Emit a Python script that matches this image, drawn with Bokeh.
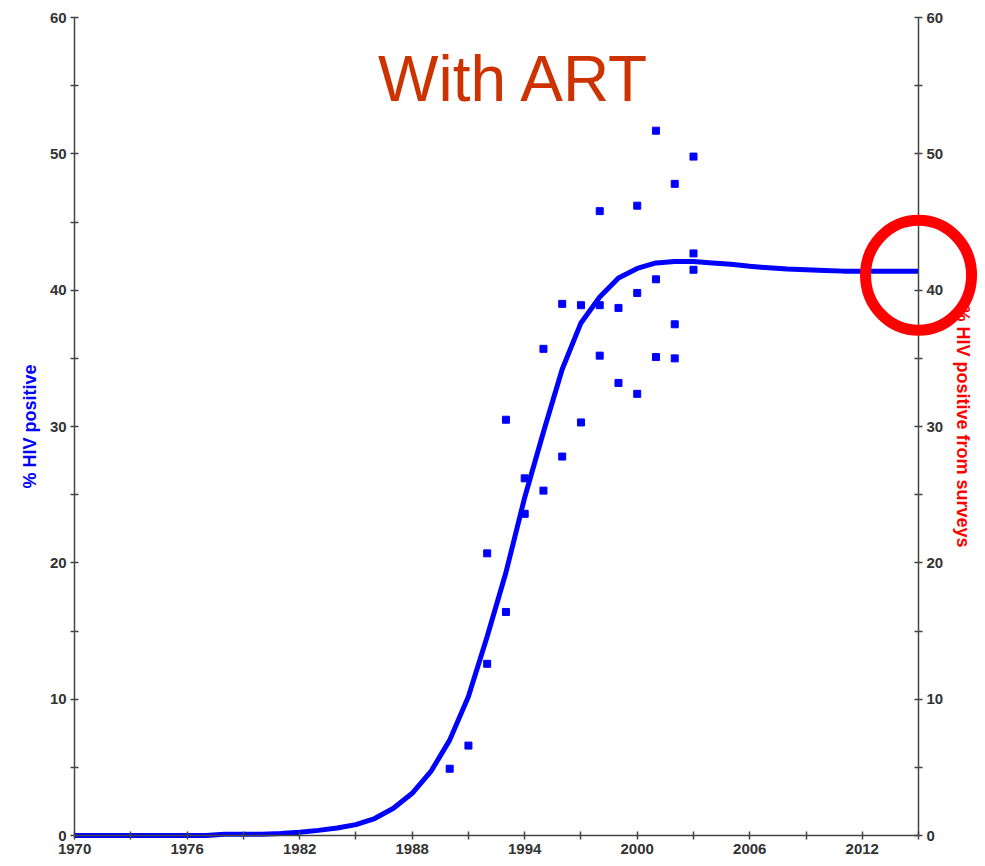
from bokeh.plotting import figure
from bokeh.models import (FixedTicker, LinearAxis, Range1d, Label,
                          ColumnDataSource, Ellipse)
from bokeh.embed import file_html
from bokeh.resources import INLINE

# Modelled adult HIV prevalence (%), one value per year
years = list(range(1970, 2016))
hiv_prevalence = [
    0.0, 0.0, 0.0, 0.0, 0.0, 0.0, 0.0, 0.0, 0.1, 0.1,        # 1970-1979
    0.1, 0.15, 0.25, 0.38, 0.55, 0.8, 1.25, 2.0, 3.1, 4.7,   # 1980-1989
    7.0, 10.2, 14.6, 19.3, 24.8, 29.6, 34.2, 37.6, 39.5, 40.9,  # 1990-1999
    41.6, 42.0, 42.1, 42.1, 42.0, 41.9, 41.75, 41.65, 41.55, 41.5,  # 2000-2009
    41.45, 41.4, 41.4, 41.4, 41.4, 41.4,                     # 2010-2015
]

# Antenatal-clinic survey observations (%)
survey_years = [
    1990, 1991, 1992, 1992, 1993, 1993, 1994, 1994, 1995, 1995,
    1996, 1996, 1997, 1997, 1998, 1998, 1998, 1999, 1999,
    2000, 2000, 2000, 2001, 2001, 2001, 2002, 2002, 2002,
    2003, 2003, 2003,
]
survey_values = [
    4.9, 6.6, 12.6, 20.7, 16.4, 30.5, 23.6, 26.2, 25.3, 35.7,
    27.8, 39.0, 30.3, 38.9, 35.2, 38.9, 45.8, 33.2, 38.7,
    32.4, 39.8, 46.2, 35.1, 40.8, 51.7, 35.0, 37.5, 47.8,
    41.5, 42.7, 49.8,
]

x_major = [1970, 1976, 1982, 1988, 1994, 2000, 2006, 2012]
x_minor = [1973, 1979, 1985, 1991, 1997, 2003, 2009, 2015]
y_major = [0, 10, 20, 30, 40, 50, 60]
y_minor = [5, 15, 25, 35, 45, 55]

title_text = "With ART"
left_label = "% HIV positive"
right_label = "% HIV positive from surveys"

AXIS_COLOR = "#444444"
LABEL_COLOR = "#333333"
BLUE = "#0000FF"

X0, X1 = years[0], years[-1]
Y0, Y1 = 0, 60

# The plotting frame fills the whole canvas; the axes are pinned to the data
# edges so that the highlight ring can spill past the right-hand axis.
p = figure(width=985, height=866, output_backend="svg", toolbar_location=None,
           x_range=Range1d(1966.05, 2018.57), y_range=Range1d(-2.27, 61.25),
           min_border=0, x_axis_type=None, y_axis_type=None)
p.outline_line_color = None
p.background_fill_color = "white"
p.border_fill_color = "white"

x_axis = LinearAxis(fixed_location=Y0, bounds=(X0, X1))
left_axis = LinearAxis(fixed_location=X0, bounds=(Y0, Y1))
right_axis = LinearAxis(fixed_location=X1, bounds=(Y0, Y1))
p.add_layout(x_axis, "below")
p.add_layout(left_axis, "left")
p.add_layout(right_axis, "right")


def style_axis(ax, ticks, minor):
    ax.ticker = FixedTicker(ticks=ticks, minor_ticks=minor)
    ax.axis_line_color = AXIS_COLOR
    ax.axis_line_width = 1.5
    ax.major_tick_line_color = AXIS_COLOR
    ax.minor_tick_line_color = AXIS_COLOR
    ax.major_tick_line_width = 1.5
    ax.minor_tick_line_width = 1.5
    ax.major_tick_in = 4
    ax.major_tick_out = 4
    ax.minor_tick_in = 4
    ax.minor_tick_out = 4
    ax.major_label_text_font = "Liberation Sans"
    ax.major_label_text_font_style = "bold"
    ax.major_label_text_font_size = "15px"
    ax.major_label_text_color = LABEL_COLOR
    ax.major_label_standoff = 4


style_axis(x_axis, x_major, x_minor)
style_axis(left_axis, y_major, y_minor)
style_axis(right_axis, y_major, y_minor)

left_axis.axis_label = left_label
left_axis.axis_label_text_color = BLUE
right_axis.axis_label = right_label
right_axis.axis_label_text_color = "#FF0000"
for ax in (left_axis, right_axis):
    ax.axis_label_text_font = "Liberation Sans"
    ax.axis_label_text_font_style = "bold"
    ax.axis_label_text_font_size = "18px"
    ax.axis_label_standoff = 7

# Modelled prevalence curve
p.line(years, hiv_prevalence, line_color=BLUE, line_width=5)

# Survey observations
src = ColumnDataSource(dict(x=survey_years, y=survey_values))
p.scatter("x", "y", source=src, marker="square", size=7,
          fill_color=BLUE, line_color=BLUE)

# Title inside the plotting area
p.add_layout(Label(x=1993.45, y=55.5, text=title_text, text_align="center",
                   text_baseline="alphabetic", text_font="Liberation Sans",
                   text_font_size="64px", text_color="#CC3300"))

# Red ring highlighting the projected end value, drawn above the axes
ring_src = ColumnDataSource(dict(x=[years[-1]], y=[hiv_prevalence[-1] - 0.3]))
ring = p.add_glyph(ring_src, Ellipse(x="x", y="y", width=106, height=110,
                                     width_units="screen", height_units="screen",
                                     fill_color=None, line_color="#FF0000",
                                     line_width=11))
ring.level = "overlay"

open("out.html", "w").write(file_html(p, INLINE))
